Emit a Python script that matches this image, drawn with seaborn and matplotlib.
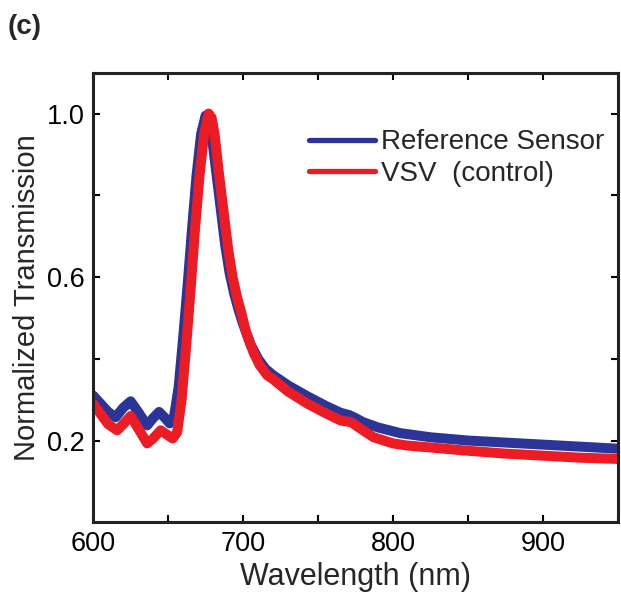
import matplotlib
matplotlib.use("Agg")
import matplotlib.pyplot as plt
import seaborn as sns
import pandas as pd

# Reference Sensor (blue)
wl_ref = [600, 605, 610, 615, 620, 625, 630, 636, 640, 644, 648, 651, 654, 657, 660, 663, 666, 669, 672,
          675, 677, 679, 682, 685, 688, 691, 694, 697, 700, 705, 710, 715, 720, 730, 743, 755, 765, 771,
          775, 780, 790, 805, 825, 850, 875, 900, 925, 950]
tr_ref = [0.31, 0.29, 0.27, 0.257, 0.28, 0.296, 0.27, 0.237, 0.255, 0.27, 0.255, 0.242, 0.26, 0.33, 0.45,
          0.58, 0.72, 0.85, 0.95, 0.995, 0.99, 0.95, 0.86, 0.77, 0.68, 0.61, 0.56, 0.52, 0.485, 0.435, 0.40,
          0.375, 0.36, 0.335, 0.308, 0.285, 0.268, 0.262, 0.255, 0.245, 0.232, 0.218, 0.208, 0.2, 0.195,
          0.19, 0.185, 0.18]

# VSV (control) (red)
wl_vsv = [600, 605, 610, 616, 620, 625, 630, 636, 640, 645, 649, 653, 656, 659, 662, 665, 668, 671, 674,
          677, 679, 681, 684, 687, 690, 693, 696, 699, 702, 707, 711, 716, 720, 730, 743, 755, 765, 772,
          780, 787, 800, 809, 831, 850, 875, 900, 925, 950]
tr_vsv = [0.29, 0.265, 0.24, 0.225, 0.24, 0.26, 0.23, 0.193, 0.205, 0.225, 0.215, 0.205, 0.22, 0.30, 0.43,
          0.57, 0.72, 0.85, 0.95, 1.0, 0.99, 0.95, 0.85, 0.76, 0.67, 0.6, 0.55, 0.51, 0.465, 0.415, 0.385,
          0.36, 0.35, 0.32, 0.29, 0.267, 0.249, 0.245, 0.225, 0.208, 0.193, 0.188, 0.181, 0.175, 0.168,
          0.163, 0.158, 0.155]

series_names = ["Reference Sensor", "VSV  (control)"]
colors = ["#2B3597", "#EC1C24"]
x_ticks = [600, 650, 700, 750, 800, 850, 900, 950]
x_labels = ["600", "", "700", "", "800", "", "900", ""]
y_ticks = [0.2, 0.4, 0.6, 0.8, 1.0]
y_labels = ["0.2", "", "0.6", "", "1.0"]

df = pd.concat([
    pd.DataFrame({"Wavelength": wl_ref, "Transmission": tr_ref, "Series": series_names[0]}),
    pd.DataFrame({"Wavelength": wl_vsv, "Transmission": tr_vsv, "Series": series_names[1]}),
])

sns.set_style("ticks")
plt.rcParams["font.family"] = ["Liberation Sans", "DejaVu Sans"]

fig = plt.figure(figsize=(6.21, 6.01), dpi=100)
ax = fig.add_axes([0.150, 0.131, 0.845, 0.748])

sns.lineplot(data=df, x="Wavelength", y="Transmission", hue="Series", palette=colors,
             hue_order=series_names, linewidth=7.2, ax=ax, sort=False, estimator=None)

ax.set_xlim(600, 950)
ax.set_ylim(0, 1.1)
ax.set_xticks(x_ticks)
ax.set_xticklabels(x_labels)
ax.set_yticks(y_ticks)
ax.set_yticklabels(y_labels)
ax.tick_params(direction="in", length=5, width=1.5, top=True, right=True, labelsize=19.5, colors="black",
               pad=6)
for s in ax.spines.values():
    s.set_linewidth(2.2)
    s.set_color("#222222")
    s.set_visible(True)

ax.set_xlabel("Wavelength (nm)", fontsize=22, labelpad=4)
ax.set_ylabel("Normalized Transmission", fontsize=21, labelpad=4)

leg = ax.legend(loc="upper right", bbox_to_anchor=(1.0, 0.905), frameon=False, fontsize=20,
                handlelength=2.4, handletextpad=0.2, labelspacing=0.2, borderaxespad=0.1)
for line in leg.get_lines():
    line.set_linewidth(3.8)

fig.text(0.013, 0.955, "(c)", fontsize=20, fontweight="bold", ha="left", va="center")

fig.savefig("out.png", dpi=100, facecolor="white")
